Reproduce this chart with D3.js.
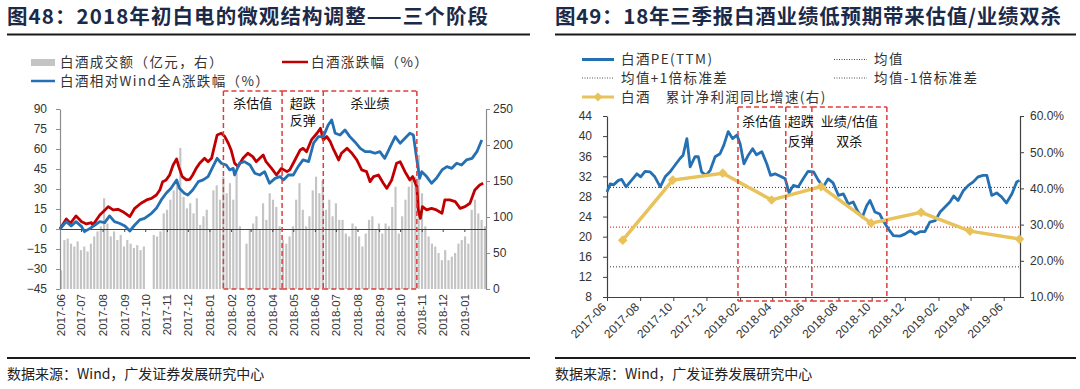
<!DOCTYPE html>
<html>
<head>
<meta charset="utf-8">
<script src="https://cdn.jsdelivr.net/npm/d3@7"></script>
<style>
  body { margin: 0; background: #fff; }
</style>
</head>
<body>
<script>
// ---------- 图48 data ----------
const leftMonths = ["2017-06","2017-07","2017-08","2017-09","2017-10","2017-11","2017-12",
  "2018-01","2018-02","2018-03","2018-04","2018-05","2018-06","2018-07","2018-08","2018-09",
  "2018-10","2018-11","2018-12","2019-01"];
const leftTicks = [-45,-30,-15,0,15,30,45,60,75,90];
const volTicks = [0,50,100,150,200,250];

// 白酒成交额（亿元），按日期顺序取样
const volume = [26,68,70,63,59,66,54,59,52,63,73,80,87,126,91,73,80,68,75,59,68,63,57,61,54,59,0,0,
  75,73,80,105,110,124,137,151,196,128,112,119,105,126,89,101,110,82,137,144,124,156,133,147,124,161,87,0,
  63,82,91,101,82,119,96,133,124,114,87,68,63,73,87,124,147,110,87,101,137,156,133,151,110,124,101,119,96,96,
  77,73,91,87,73,59,77,96,101,82,91,77,91,87,114,142,77,101,124,142,151,156,186,133,87,73,63,59,50,40,54,40,
  45,50,63,68,73,63,110,124,105,96,87];

// 白酒涨跌幅（%）
const liquorReturn = [["2017-06-01",0],["2017-06-10",7.5],["2017-06-16",4.3],["2017-06-24",9.8],["2017-07-02",5.5],
  ["2017-07-09",3.8],["2017-07-16",4.8],["2017-07-18",3],["2017-07-28",10.5],["2017-08-04",14],["2017-08-09",16.8],
  ["2017-08-16",14.3],["2017-08-23",14.8],["2017-08-30",13],["2017-09-09",9.3],["2017-09-16",15.5],["2017-09-25",19.3],
  ["2017-10-03",21.8],["2017-10-10",23],["2017-10-17",25.5],["2017-10-22",29.3],["2017-10-26",35.5],["2017-10-31",36.8],
  ["2017-11-05",40.5],["2017-11-10",48],["2017-11-15",52.5],["2017-11-18",46.8],["2017-11-23",39.3],["2017-11-29",36.8],
  ["2017-12-04",37.3],["2017-12-08",40.5],["2017-12-13",45.5],["2017-12-18",49.3],["2017-12-25",53],["2017-12-30",50.5],
  ["2018-01-04",53],["2018-01-08",61.8],["2018-01-12",70.5],["2018-01-18",71.8],["2018-01-23",69.3],["2018-01-28",64.3],
  ["2018-02-01",59.3],["2018-02-06",49.3],["2018-02-11",46.8],["2018-02-18",53],["2018-02-25",56.8],["2018-03-04",54.3],
  ["2018-03-09",50.5],["2018-03-14",53],["2018-03-19",55.5],["2018-03-23",50.5],["2018-03-31",45.5],["2018-04-07",40.5],
  ["2018-04-14",45.5],["2018-04-22",43],["2018-04-26",44.3],["2018-05-01",49.3],["2018-05-11",59.3],["2018-05-15",60.5],
  ["2018-05-20",58],["2018-05-27",66.8],["2018-06-04",71.8],["2018-06-09",75.5],["2018-06-13",66.8],["2018-06-18",69.3],
  ["2018-06-23",65.5],["2018-06-27",60.5],["2018-07-05",51.8],["2018-07-09",56.8],["2018-07-17",60.5],["2018-07-24",56.8],
  ["2018-07-31",51.8],["2018-08-07",44.3],["2018-08-14",43],["2018-08-19",35.5],["2018-08-24",39.3],["2018-08-31",40.5],
  ["2018-09-07",34.3],["2018-09-12",30.5],["2018-09-19",36.8],["2018-09-26",49.3],["2018-10-01",50.5],["2018-10-08",43],
  ["2018-10-15",36.8],["2018-10-19",39.3],["2018-10-25",31.8],["2018-10-27",14.3],["2018-10-30",8],["2018-11-02",16.8],
  ["2018-11-08",14.3],["2018-11-15",15.5],["2018-11-22",14.3],["2018-11-30",11.8],["2018-12-04",21.8],["2018-12-11",21.8],
  ["2018-12-19",20.5],["2018-12-26",15.5],["2019-01-02",16.8],["2019-01-09",19.3],["2019-01-16",29.3],["2019-01-23",33],
  ["2019-01-28",34.3]];

// 白酒相对Wind全A涨跌幅（%）
const relativeReturn = [["2017-06-01",0],["2017-06-10",5.5],["2017-06-17",2.3],["2017-06-24",5.5],["2017-07-02",1.8],
  ["2017-07-06",-2],["2017-07-14",0.5],["2017-07-21",3],["2017-07-28",5.5],["2017-08-04",4.8],["2017-08-11",9.8],
  ["2017-08-18",5.5],["2017-08-25",4.3],["2017-09-02",2.3],["2017-09-09",-1.5],["2017-09-16",3],["2017-09-23",6.8],
  ["2017-09-30",8],["2017-10-10",11.8],["2017-10-17",15.5],["2017-10-24",21.8],["2017-10-31",26.8],["2017-11-07",30.5],
  ["2017-11-15",36.8],["2017-11-19",30.5],["2017-11-26",26.8],["2017-12-01",25.5],["2017-12-08",29.3],["2017-12-16",35.5],
  ["2017-12-23",36.8],["2017-12-30",39.3],["2018-01-06",46.8],["2018-01-12",53],["2018-01-18",49.3],["2018-01-25",48],
  ["2018-01-30",44.3],["2018-02-04",45.5],["2018-02-06",40.5],["2018-02-13",49.3],["2018-02-20",50.5],["2018-02-28",48],
  ["2018-03-07",41.8],["2018-03-14",40.5],["2018-03-21",43],["2018-03-28",34.3],["2018-04-05",38],["2018-04-12",39.3],
  ["2018-04-17",36.8],["2018-04-24",40.5],["2018-05-01",40.5],["2018-05-08",46.8],["2018-05-15",51.8],["2018-05-23",50.5],
  ["2018-05-30",64.3],["2018-06-06",69.3],["2018-06-13",69.3],["2018-06-20",78],["2018-06-25",81.8],["2018-06-30",71.8],
  ["2018-07-07",70.5],["2018-07-14",74.3],["2018-07-21",69.3],["2018-07-28",65.5],["2018-08-05",60.5],["2018-08-12",58],
  ["2018-08-19",58],["2018-08-26",56.8],["2018-09-02",58],["2018-09-09",53],["2018-09-17",61.8],["2018-09-24",69.3],
  ["2018-10-01",64.3],["2018-10-08",68],["2018-10-15",71.8],["2018-10-20",70.5],["2018-10-25",51.8],["2018-10-29",38],
  ["2018-11-01",43],["2018-11-08",39.3],["2018-11-15",34.3],["2018-11-22",38],["2018-11-30",44.3],["2018-12-07",46.8],
  ["2018-12-14",45.5],["2018-12-21",49.3],["2018-12-28",48],["2019-01-04",51.8],["2019-01-12",53],["2019-01-19",58],
  ["2019-01-26",66.8]];

const leftPhases = [
  { lines: ["杀估值"], start: "2018-01-21", end: "2018-04-15" },
  { lines: ["超跌", "反弹"], start: "2018-04-15", end: "2018-06-13" },
  { lines: ["杀业绩"], start: "2018-06-13", end: "2018-10-25" }
];

// ---------- 图49 data ----------
const rightMonths = ["2017-06","2017-08","2017-10","2017-12","2018-02","2018-04","2018-06",
  "2018-08","2018-10","2018-12","2019-02","2019-04","2019-06"];
const peTicks = [8,12,16,20,24,28,32,36,40,44];
const growthTicks = [0.1,0.2,0.3,0.4,0.5,0.6];

// 白酒PE(TTM)
const pe = [["2017-06-01",28.9],["2017-06-07",30.5],["2017-06-13",30.3],["2017-06-22",31.2],["2017-06-28",31.4],
  ["2017-07-06",29.9],["2017-07-16",31.2],["2017-07-26",32.5],["2017-08-02",31.9],["2017-08-10",33],["2017-08-19",32.9],
  ["2017-08-28",31.9],["2017-09-07",29.9],["2017-09-16",31.9],["2017-09-25",32.9],["2017-10-04",34.2],["2017-10-13",35.5],
  ["2017-10-19",36.2],["2017-10-26",39.5],["2017-11-01",33.9],["2017-11-10",35.9],["2017-11-16",35.9],["2017-11-22",32.9],
  ["2017-11-30",32.2],["2017-12-08",33.2],["2017-12-17",35.9],["2017-12-26",36.5],["2018-01-02",38.2],["2018-01-10",40.9],
  ["2018-01-18",39.5],["2018-01-26",40.2],["2018-02-01",38.5],["2018-02-08",34.5],["2018-02-16",36.2],["2018-02-24",37.5],
  ["2018-03-03",36.3],["2018-03-13",36.9],["2018-03-22",34.5],["2018-03-29",32.2],["2018-04-06",32.5],["2018-04-18",31.9],
  ["2018-04-25",31.5],["2018-05-02",28.7],["2018-05-10",30.2],["2018-05-19",29.9],["2018-05-28",31.5],["2018-06-06",33],
  ["2018-06-16",32.9],["2018-06-25",31.2],["2018-07-04",29.9],["2018-07-13",31.5],["2018-07-22",30.7],["2018-08-01",28.2],
  ["2018-08-10",28.5],["2018-08-19",26.5],["2018-08-28",26.9],["2018-09-06",24.9],["2018-09-14",23.9],["2018-09-22",26.2],
  ["2018-09-28",27.2],["2018-10-07",24.9],["2018-10-16",24.5],["2018-10-22",23.2],["2018-11-01",21.5],["2018-11-10",20.2],
  ["2018-11-22",20.1],["2018-12-01",20.5],["2018-12-11",21.2],["2018-12-20",20.5],["2018-12-29",21],["2019-01-07",21],
  ["2019-01-16",22.9],["2019-01-26",23.2],["2019-02-04",24.9],["2019-02-13",25.9],["2019-02-22",26.9],["2019-03-01",28.1],
  ["2019-03-09",27.2],["2019-03-19",29.2],["2019-03-28",30.2],["2019-04-06",30.9],["2019-04-15",31.9],["2019-04-24",32.2],
  ["2019-05-01",32.2],["2019-05-10",28.2],["2019-05-19",28.7],["2019-05-28",27.9],["2019-06-06",26.7],["2019-06-16",28.5],
  ["2019-06-25",30.9],["2019-06-30",31.2]];

const peMean = 21.9;
const peStd = 7.9;

// 白酒累计净利润同比增速（右）
const profitGrowth = [["2017-06-30",0.257],["2017-09-30",0.423],["2017-12-31",0.442],["2018-03-31",0.368],
  ["2018-06-30",0.405],["2018-09-30",0.304],["2018-12-31",0.334],["2019-03-31",0.282],["2019-06-30",0.260]];

const rightPhases = [
  { lines: ["杀估值"], start: "2018-01-28", end: "2018-04-26", align: "middle" },
  { lines: ["超跌", "反弹"], start: "2018-04-26", end: "2018-06-13", align: "start" },
  { lines: ["业绩/估值", "双杀"], start: "2018-06-13", end: "2018-10-29", align: "middle" }
];

// ---------- drawing ----------
const parse = d3.timeParse("%Y-%m-%d");
const parseMonth = d3.timeParse("%Y-%m");
const fmtMonth = d3.timeFormat("%Y-%m");
const cjk = '"Noto Sans CJK SC", sans-serif';
const latin = '"Liberation Sans", Arial, "Noto Sans CJK SC", sans-serif';
const red = "#c00000", blue = "#2470b3", gold = "#e8c25a", boxRed = "#e03c3c";

const svg = d3.select("body").append("svg")
  .attr("width", 1080).attr("height", 389)
  .style("font-family", latin);

function frame(x0, x1, titleWidth, title, source) {
  svg.append("text").attr("x", x0).attr("y", 24).text(title)
    .attr("font-family", cjk).attr("font-weight", "bold").attr("font-size", 20.5)
    .attr("textLength", titleWidth).attr("lengthAdjust", "spacing")
    .attr("fill", "#1b2a48");
  svg.append("line").attr("x1", x0).attr("x2", x1).attr("y1", 34.5).attr("y2", 34.5)
    .attr("stroke", "#1a1a1a").attr("stroke-width", 2);
  svg.append("line").attr("x1", x0).attr("x2", x1).attr("y1", 358).attr("y2", 358)
    .attr("stroke", "#1a1a1a").attr("stroke-width", 2);
  svg.append("text").attr("x", x0).attr("y", 379).text(source)
    .attr("font-family", cjk).attr("font-size", 14).attr("fill", "#222");
}

function styleAxis(g, color) {
  g.selectAll(".domain").attr("stroke", color).attr("stroke-width", 1.2);
  g.selectAll(".tick line").attr("stroke", color);
  g.selectAll(".tick text").attr("fill", "#333").attr("font-size", 12).attr("font-family", latin);
}

function legendText(x, y, t) {
  svg.append("text").attr("x", x).attr("y", y).attr("dy", "0.35em").text(t)
    .attr("font-family", cjk).attr("font-size", 13.5).attr("letter-spacing", 1.4).attr("fill", "#333");
}

function phaseBoxes(phases, x, yTop, yBottom, rows) {
  const g = svg.append("g").attr("fill", "none").attr("stroke", boxRed)
    .attr("stroke-width", 1.5).attr("stroke-dasharray", "5,3");
  const edges = Array.from(new Set(phases.flatMap(p => [p.start, p.end])));
  phases.forEach(p => {
    const a = x(parse(p.start)), b = x(parse(p.end));
    [yTop, yBottom].forEach(yy => g.append("line").attr("x1", a).attr("x2", b).attr("y1", yy).attr("y2", yy));
  });
  edges.forEach(e => g.append("line").attr("x1", x(parse(e))).attr("x2", x(parse(e)))
    .attr("y1", yTop).attr("y2", yBottom));
  phases.forEach(p => {
    const a = x(parse(p.start)), b = x(parse(p.end));
    const al = p.align || "middle";
    p.lines.forEach((t, i) => {
      svg.append("text").attr("x", al === "start" ? a + 2 : (a + b) / 2).attr("y", rows[i])
        .attr("dy", "0.35em").attr("text-anchor", al).text(t)
        .attr("font-family", cjk).attr("font-size", 13).attr("fill", "#111");
    });
  });
}

// ===== 图48 =====
frame(7, 530, 481, "图48：2018年初白电的微观结构调整——三个阶段", "数据来源：Wind，广发证券发展研究中心");

const xL = d3.scaleTime().domain([parse("2017-06-01"), parse("2019-02-01")]).range([60, 486]);
const yL = d3.scaleLinear().domain([-45, 90]).range([289, 109]);
const yV = d3.scaleLinear().domain([0, 250]).range([289, 109]);
const xBar = d3.scaleBand().domain(d3.range(volume.length)).range([60, 486]).paddingInner(0.35);

svg.append("g").selectAll("rect").data(volume).join("rect")
  .attr("x", (d, i) => xBar(i)).attr("width", xBar.bandwidth())
  .attr("y", d => yV(d)).attr("height", d => yV(0) - yV(d))
  .attr("fill", "#c4c4c4");

const monthDates = leftMonths.map(parseMonth);
const zeroAxis = svg.append("g").attr("transform", `translate(0,${yL(0)})`)
  .call(d3.axisBottom(xL).tickValues(monthDates).tickSize(3).tickSizeOuter(0).tickFormat(""));
styleAxis(zeroAxis, "#404040");

const xLabels = svg.append("g").attr("transform", "translate(0,289)")
  .call(d3.axisBottom(xL).tickValues(monthDates).tickSize(0).tickFormat(fmtMonth));
xLabels.select(".domain").remove();
styleAxis(xLabels, "#404040");
xLabels.selectAll(".tick text").attr("transform", "rotate(-90)")
  .attr("text-anchor", "end").attr("x", -5).attr("y", 0).attr("dy", "0.35em").attr("font-size", 11.5);

const axL = svg.append("g").attr("transform", "translate(60,0)")
  .call(d3.axisLeft(yL).tickValues(leftTicks).tickSize(4).tickPadding(9).tickSizeOuter(0));
styleAxis(axL, "#8c8c8c");
const axV = svg.append("g").attr("transform", "translate(486,0)")
  .call(d3.axisRight(yV).tickValues(volTicks).tickSize(4).tickPadding(3).tickSizeOuter(0));
styleAxis(axV, "#8c8c8c");

const lineL = d3.line().x(d => xL(parse(d[0]))).y(d => yL(d[1]));
svg.append("path").datum(liquorReturn).attr("d", lineL)
  .attr("fill", "none").attr("stroke", red).attr("stroke-width", 2.8).attr("stroke-linejoin", "round");
svg.append("path").datum(relativeReturn).attr("d", lineL)
  .attr("fill", "none").attr("stroke", blue).attr("stroke-width", 2.8).attr("stroke-linejoin", "round");

phaseBoxes(leftPhases, xL, 91, 289, [103, 120]);

// legend 图48
svg.append("rect").attr("x", 31).attr("y", 59).attr("width", 24).attr("height", 7).attr("fill", "#c4c4c4");
legendText(60, 62, "白酒成交额（亿元，右）");
svg.append("line").attr("x1", 282).attr("x2", 308).attr("y1", 62).attr("y2", 62).attr("stroke", red).attr("stroke-width", 2.5);
legendText(311, 62, "白酒涨跌幅（%）");
svg.append("line").attr("x1", 31).attr("x2", 55).attr("y1", 81).attr("y2", 81).attr("stroke", blue).attr("stroke-width", 2.5);
legendText(60, 81, "白酒相对Wind全A涨跌幅（%）");

// ===== 图49 =====
frame(555, 1076, 506, "图49：18年三季报白酒业绩低预期带来估值/业绩双杀", "数据来源：Wind，广发证券发展研究中心");

const xR = d3.scaleTime().domain([parse("2017-06-01"), parse("2019-07-01")]).range([607, 1020]);
const yP = d3.scaleLinear().domain([8, 44]).range([297, 116]);
const yG = d3.scaleLinear().domain([0.1, 0.6]).range([297, 116]);

const bands = [
  { v: peMean, color: "#e00000" },
  { v: peMean + peStd, color: "#333" },
  { v: peMean - peStd, color: "#333" }
];
svg.append("g").selectAll("line").data(bands).join("line")
  .attr("x1", 607).attr("x2", 1020).attr("y1", d => yP(d.v)).attr("y2", d => yP(d.v))
  .attr("stroke", d => d.color).attr("stroke-width", 1).attr("stroke-dasharray", "1,2");

const axB = svg.append("g").attr("transform", "translate(0,297)")
  .call(d3.axisBottom(xR).tickValues(rightMonths.map(parseMonth)).tickSize(4).tickSizeOuter(0).tickFormat(fmtMonth));
styleAxis(axB, "#404040");
axB.selectAll(".tick text").attr("transform", "rotate(-45)")
  .attr("text-anchor", "end").attr("x", -8).attr("y", 3).attr("dy", "0.35em");

const axP = svg.append("g").attr("transform", "translate(607,0)")
  .call(d3.axisLeft(yP).tickValues(peTicks).tickSize(4).tickPadding(11).tickSizeOuter(0));
styleAxis(axP, "#404040");
const axG = svg.append("g").attr("transform", "translate(1020,0)")
  .call(d3.axisRight(yG).tickValues(growthTicks).tickSize(4).tickPadding(6).tickSizeOuter(0).tickFormat(d3.format(".1%")));
styleAxis(axG, "#404040");

svg.append("path").datum(pe)
  .attr("d", d3.line().x(d => xR(parse(d[0]))).y(d => yP(d[1])))
  .attr("fill", "none").attr("stroke", blue).attr("stroke-width", 2.8).attr("stroke-linejoin", "round");

svg.append("path").datum(profitGrowth)
  .attr("d", d3.line().x(d => xR(parse(d[0]))).y(d => yG(d[1])))
  .attr("fill", "none").attr("stroke", gold).attr("stroke-width", 3.5);
svg.append("g").selectAll("path").data(profitGrowth).join("path")
  .attr("transform", d => `translate(${xR(parse(d[0]))},${yG(d[1])})`)
  .attr("d", d3.symbol(d3.symbolDiamond2, 60)).attr("fill", gold);

phaseBoxes(rightPhases, xR, 107, 301, [121, 141]);

// legend 图49
svg.append("line").attr("x1", 582).attr("x2", 614).attr("y1", 59.5).attr("y2", 59.5).attr("stroke", blue).attr("stroke-width", 3);
legendText(621, 59.5, "白酒PE(TTM)");
svg.append("line").attr("x1", 834).attr("x2", 867).attr("y1", 59.5).attr("y2", 59.5).attr("stroke", "#e00000").attr("stroke-dasharray", "1,1.5");
legendText(874, 59.5, "均值");
svg.append("line").attr("x1", 582).attr("x2", 614).attr("y1", 78).attr("y2", 78).attr("stroke", "#555").attr("stroke-dasharray", "1,1.5");
legendText(621, 78, "均值+1倍标准差");
svg.append("line").attr("x1", 834).attr("x2", 867).attr("y1", 78).attr("y2", 78).attr("stroke", "#555").attr("stroke-dasharray", "1,1.5");
legendText(874, 78, "均值-1倍标准差");
svg.append("line").attr("x1", 582).attr("x2", 614).attr("y1", 97).attr("y2", 97).attr("stroke", gold).attr("stroke-width", 3);
svg.append("path").attr("transform", "translate(598,97)").attr("d", d3.symbol(d3.symbolDiamond2, 50)).attr("fill", gold);
legendText(621, 97, "白酒　累计净利润同比增速(右)");
</script>
</body>
</html>
